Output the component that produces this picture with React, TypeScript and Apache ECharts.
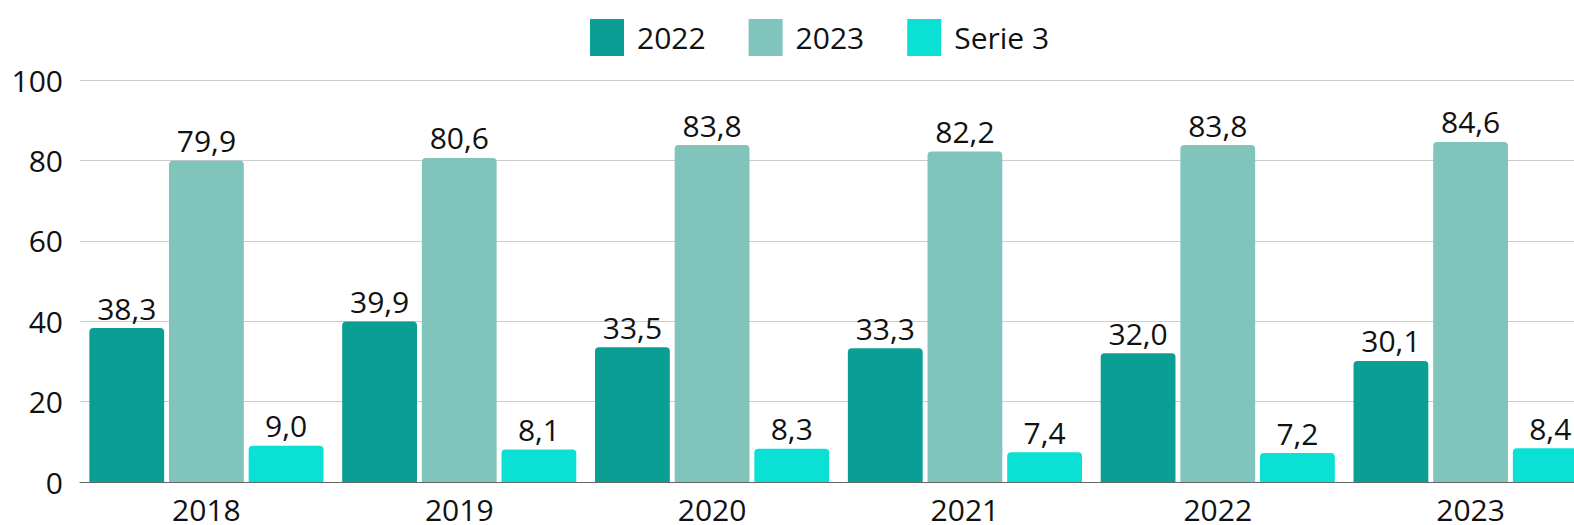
import React, { useEffect, useRef } from "react";
import * as echarts from "echarts";

const categories = ["2018", "2019", "2020", "2021", "2022", "2023"];
const series2022 = [38.3, 39.9, 33.5, 33.3, 32.0, 30.1];
const series2023 = [79.9, 80.6, 83.8, 82.2, 83.8, 84.6];
const serie3 = [9.0, 8.1, 8.3, 7.4, 7.2, 8.4];
const seriesNames = ["2022", "2023", "Serie 3"];
const colors = ["#0A9E94", "#80C4BC", "#0AE0D4"];

const FONT = "'Open Sans', 'Noto Sans', sans-serif";

export default function App() {
  const ref = useRef<HTMLDivElement>(null);
  useEffect(() => {
    document.body.style.margin = "0";
    const chart = echarts.init(ref.current!, undefined, { renderer: "svg" });
    const fmt = (p: any) => Number(p.value).toFixed(1).replace(".", ",");
    const mk = (name: string, data: number[], color: string) => ({
      name,
      type: "bar",
      data,
      barCategoryGap: "7.4%",
      barGap: "6.5%",
      itemStyle: { color, borderRadius: [4, 4, 0, 0] },
      label: {
        show: true,
        position: "top",
        distance: 5,
        formatter: fmt,
        color: "#111",
        fontSize: 30,
        fontFamily: FONT,
      },
    });
    chart.setOption({
      animation: false,
      textStyle: { fontFamily: FONT },
      legend: {
        left: 585,
        top: 14,
        itemWidth: 34,
        itemHeight: 37,
        itemGap: 43,
        icon: "rect",
        textStyle: { fontSize: 30, color: "#111", fontFamily: FONT, padding: [0, 0, 0, 8] },
        data: seriesNames,
      },
      grid: { left: 80, right: 3, top: 80, bottom: 43, containLabel: false },
      xAxis: {
        type: "category",
        data: categories,
        axisTick: { show: false },
        axisLine: { lineStyle: { color: "#666", width: 1 } },
        axisLabel: { fontSize: 30, color: "#111", margin: 12, fontFamily: FONT },
      },
      yAxis: {
        type: "value",
        min: 0,
        max: 100,
        interval: 20,
        splitLine: { lineStyle: { color: "#cccccc", width: 1 } },
        axisLabel: { fontSize: 30, color: "#111", margin: 17, fontFamily: FONT },
      },
      series: [
        mk(seriesNames[0], series2022, colors[0]),
        mk(seriesNames[1], series2023, colors[1]),
        mk(seriesNames[2], serie3, colors[2]),
      ],
    });
    return () => chart.dispose();
  }, []);
  return (
    <div style={{ width: 1574, height: 525, overflow: "hidden", position: "relative" }}>
      <div ref={ref} style={{ width: 1600, height: 525 }} />
    </div>
  );
}
